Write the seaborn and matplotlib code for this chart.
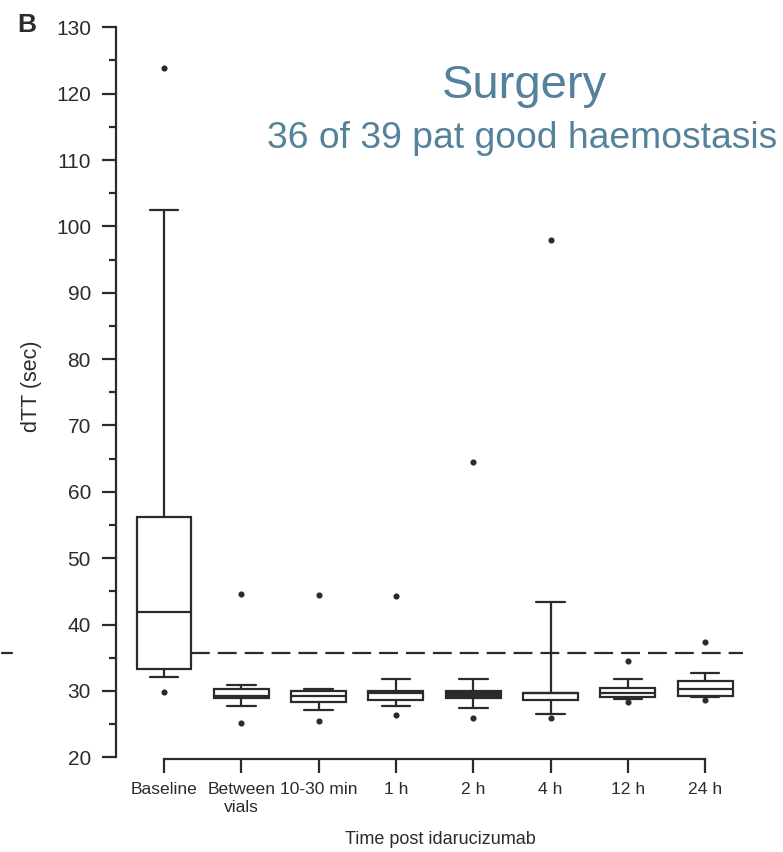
import matplotlib
matplotlib.use("Agg")
import matplotlib.pyplot as plt
from matplotlib.lines import Line2D
import seaborn as sns

# ---- data ----
categories = ["Baseline", "Between\nvials", "10-30 min", "1 h", "2 h", "4 h", "12 h", "24 h"]
q1      = [33.35, 28.98, 28.29, 28.63, 28.95, 28.63, 29.04, 29.24]
median  = [41.85, 29.24, 29.24, 29.64, 29.50, 29.64, 29.64, 30.25]
q3      = [56.2, 30.29, 29.99, 29.99, 30.00, 29.74, 30.40, 31.54]
wlo     = [32.1, 27.78, 27.13, 27.78, 27.47, 26.50, 28.74, 29.04]
whi     = [102.4, 30.85, 30.29, 31.84, 31.80, 43.36, 31.80, 32.75]
outliers = [
    [123.9, 29.9],
    [44.65, 25.12],
    [44.5, 25.47],
    [44.26, 26.37],
    [64.5, 25.97],
    [97.95, 25.9],
    [34.56, 28.38],
    [37.42, 28.63],
]
reference_level = 35.72
yticks = list(range(20, 131, 10))
title = "Surgery"
subtitle = "36 of 39 pat good haemostasis"
ylabel = "dTT (sec)"
xlabel = "Time post idarucizumab"

# ---- style ----
sns.set_theme(style="ticks")
plt.rcParams["font.family"] = ["Liberation Sans", "DejaVu Sans"]
ink = "#2b2b2b"
accent = "#55829b"
box_fill = ["white", "white", "white", "white", ink, "white", "white", "white"]

fig = plt.figure(figsize=(7.83, 8.52), dpi=100)
ax = fig.add_axes([116 / 783, 1 - 757.3 / 852, (743 - 116) / 783, (757.3 - 27.3) / 852])

stats = []
for i, c in enumerate(categories):
    stats.append(dict(label=c, q1=q1[i], med=median[i], q3=q3[i],
                      whislo=wlo[i], whishi=whi[i], fliers=outliers[i]))

positions = list(range(len(categories)))
lw = 1.6
bp = ax.bxp(stats, positions=positions, widths=0.71, capwidths=0.37,
            patch_artist=True, showfliers=True,
            boxprops=dict(edgecolor=ink, linewidth=lw),
            medianprops=dict(color=ink, linewidth=lw),
            whiskerprops=dict(color=ink, linewidth=lw),
            capprops=dict(color=ink, linewidth=lw),
            flierprops=dict(marker="o", markersize=3.4, markerfacecolor=ink,
                            markeredgecolor=ink, linestyle="none"))
for patch, fc in zip(bp["boxes"], box_fill):
    patch.set_facecolor(fc)
    patch.set_zorder(3)
for k in ("medians", "whiskers", "caps", "fliers"):
    for a in bp[k]:
        a.set_zorder(4)

# reference (dashed) line
ax.plot([0, 7.49], [reference_level, reference_level], color=ink, lw=1.6,
        linestyle=(0, (8.5, 3.6)), zorder=2, clip_on=False)
fig.add_artist(Line2D([2 / 783, 12 / 783], [1 - 653 / 852, 1 - 653 / 852],
                      color=ink, lw=1.6))

ax.set_xlim(-0.621, 7.49)
ax.set_ylim(20, 130)
ax.set_yticks(yticks)
ax.set_yticks([v + 5 for v in yticks[:-1]], minor=True)
ax.set_xticks(positions)
ax.set_xticklabels(categories, color=ink, linespacing=1.05)
ax.tick_params(axis="y", which="major", length=10, width=1.6, color=ink,
               labelsize=15, labelcolor=ink, pad=8)
ax.tick_params(axis="y", which="minor", length=5, width=1.6, color=ink)
ax.tick_params(axis="x", which="major", length=10, width=1.6, color=ink,
               labelsize=12.6, labelcolor=ink, pad=7)

for s in ("top", "right"):
    ax.spines[s].set_visible(False)
for s in ("left", "bottom"):
    ax.spines[s].set_color(ink)
    ax.spines[s].set_linewidth(1.6)
ax.spines["left"].set_bounds(20, 130)
ax.spines["bottom"].set_bounds(0, 7)
ax.spines["bottom"].set_position(("outward", 1))
ax.set_facecolor("white")

ax.set_ylabel(ylabel, fontsize=15.5, color=ink, va="center")
ax.yaxis.set_label_coords((32 - 116) / 627, (757.3 - 386) / 730)
ax.set_xlabel(xlabel, fontsize=13, color=ink, va="center")
ax.xaxis.set_label_coords((440 - 116) / 627, (757.3 - 840) / 730)

fig.text(27 / 783, 1 - 25 / 852, "B", fontsize=19, fontweight="bold",
         color=ink, ha="center", va="center")
fig.text(525 / 783, 1 - 86 / 852, title, fontsize=34, color=accent,
         ha="center", va="center")
fig.text(522 / 783, 1 - 139 / 852, subtitle, fontsize=26.8, color=accent,
         ha="center", va="center")

fig.savefig("out.png", dpi=100, facecolor="white")
